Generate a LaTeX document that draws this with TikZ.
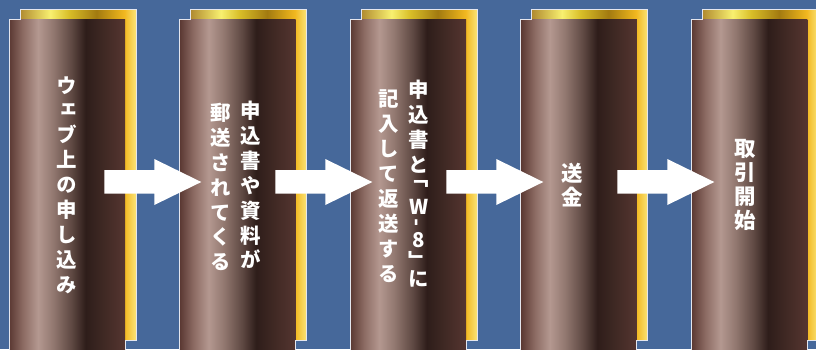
\documentclass[tikz,border=0pt]{standalone}
\usepackage{fontspec}
\newfontfamily\jp{Noto Sans CJK JP}[RawFeature=+vert]
\definecolor{bg}{HTML}{46689A}
\definecolor{edgec}{HTML}{E4E6EE}
\definecolor{b0}{HTML}{5A3832}
\definecolor{b1}{HTML}{8C6B63}
\definecolor{b2}{HTML}{B49890}
\definecolor{b3}{HTML}{927870}
\definecolor{b4}{HTML}{5E4842}
\definecolor{b5}{HTML}{2E1D1A}
\definecolor{b6}{HTML}{3E2823}
\definecolor{b7}{HTML}{553530}
\definecolor{g0}{HTML}{B08A30}
\definecolor{g1}{HTML}{F8F070}
\definecolor{g2}{HTML}{D8BE28}
\definecolor{g3}{HTML}{A27A10}
\definecolor{g4}{HTML}{D8A418}
\definecolor{g5}{HTML}{F2B820}
\definecolor{g6}{HTML}{FAE478}
\pgfdeclarehorizontalshading{brownbar}{100bp}{color(0bp)=(b0); color(25bp)=(b0); color(31bp)=(b1); color(37.5bp)=(b2); color(44bp)=(b3); color(52bp)=(b4); color(58bp)=(b5); color(65bp)=(b6); color(75bp)=(b7); color(100bp)=(b7)}
\pgfdeclarehorizontalshading{goldbar}{100bp}{color(0bp)=(g0); color(25bp)=(g0); color(38bp)=(g1); color(46bp)=(g2); color(58bp)=(g3); color(66bp)=(g4); color(70bp)=(g5); color(75bp)=(g6); color(100bp)=(g6)}
\tikzset{
  edge/.style={draw=edgec, line width=0.9bp},
  blockarrow/.style={fill=white},
  txt/.style={font=\jp\bfseries\fontsize{20.5}{25}\selectfont, text=white, align=center, inner sep=0pt},
  txtb/.style={txt, font=\jp\bfseries\fontsize{21.5}{24}\selectfont},
}
\begin{document}
\begin{tikzpicture}[x=1bp,y=-1bp]
\useasboundingbox (0,0) rectangle (816,349);
\fill[bg] (0,0) rectangle (816,349);
\clip (0,0) rectangle (816,349);
\foreach \i in {0,...,4}{
  \pgfmathsetmacro\px{9+170.6*\i}
  \shade[shading=goldbar] (\px+11,9) rectangle (\px+127,340);
  \shade[shading=brownbar] (\px,19) rectangle (\px+116,355);
  \draw[edge] (\px,355) -- (\px,19) -- (\px+11,19) -- (\px+11,9) -- (\px+127,9) -- (\px+127,340) -- (\px+116,340) -- (\px+116,355);
}
\foreach \i in {0,...,3}{
  \pgfmathsetmacro\ax{104.3+171*\i}
  \fill[blockarrow] (\ax,170) -- (\ax+50,170) -- (\ax+50,159) -- (\ax+97,182) -- (\ax+50,205) -- (\ax+50,193.5) -- (\ax,193.5) -- cycle;
}
\node[txt] (s1) at (67,185) {ウ\\ェ\\ブ\\上\\の\\申\\し\\込\\み};
\node[txt] (s2r) at (251,185) {申\\込\\書\\や\\資\\料\\が};
\node[txt] (s2l) at (220.5,187) {郵\\送\\さ\\れ\\て\\く\\る};
\node[txt, anchor=north] (s3r) at (419,80) {申\\込\\書\\と\\[-12bp]﹁\\[4bp]W\\[-13bp]\rotatebox{90}{-}\\[-4bp]8\\[-3.5bp]﹂\\[-7bp]に};
\node[txt] (s3l) at (389,186) {記\\入\\し\\て\\返\\送\\す\\る};
\node[txtb] (s4) at (572,185) {送\\金};
\node[txtb] (s5) at (745,185) {取\\引\\開\\始};
\end{tikzpicture}
\end{document}
